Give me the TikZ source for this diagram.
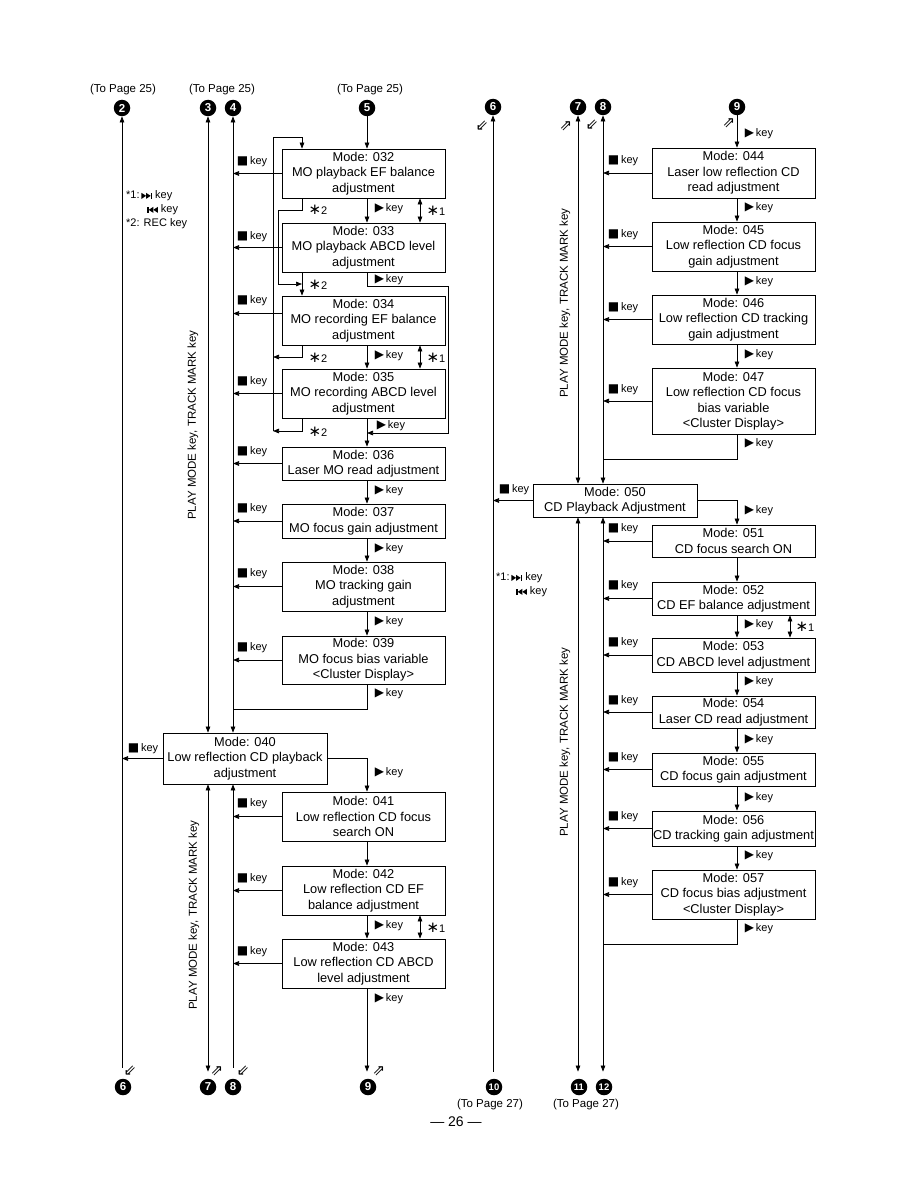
\documentclass[tikz,border=0pt]{standalone}
\usepackage{fontspec}
\setmainfont{Liberation Sans}
\newfontfamily\dvfont{DejaVu Sans}
\usetikzlibrary{arrows.meta}
\newcommand\mypk{{\dvfont\fontsize{12}{12}\selectfont ▶}\,key}
\newcommand\mysk{{\dvfont\fontsize{12}{12}\selectfont ■}\,key}
\newcommand\myast{{\dvfont\fontsize{15}{15}\selectfont ∗}}
\newcommand\fwdsym{\tikz[baseline=0pt,x=1pt,y=1pt]{\fill (0,0)--(4.6,3)--(0,6)--cycle; \fill (4.6,0)--(9.2,3)--(4.6,6)--cycle; \fill (9.2,0) rectangle (10.7,6);}}
\newcommand\rewsym{\tikz[baseline=0pt,x=1pt,y=1pt]{\fill (0,0) rectangle (1.5,6); \fill (6.1,0)--(1.5,3)--(6.1,6)--cycle; \fill (10.7,0)--(6.1,3)--(10.7,6)--cycle;}}
\tikzset{
  box/.style={draw, line width=0.8pt, align=center, minimum width=163pt, inner sep=0pt, font=\fontsize{12.8}{15.5}\selectfont},
  ln/.style={line width=0.7pt},
  arr/.style={ln, -{Triangle[length=6pt,width=4.6pt]}},
  arrb/.style={ln, {Triangle[length=6pt,width=4.6pt]}-{Triangle[length=6pt,width=4.6pt]}},
  arru/.style={ln, {Triangle[length=6pt,width=4.6pt]}-},
  klbl/.style={font=\fontsize{11}{13}\selectfont, inner sep=0pt},
  num/.style={circle, fill=black, text=white, font=\bfseries\fontsize{11.5}{11.5}\selectfont, inner sep=0pt, minimum size=16.5pt},
  numsm/.style={num, font=\bfseries\fontsize{9.5}{9.5}\selectfont},
  topage/.style={font=\fontsize{11.5}{13}\selectfont, inner sep=0pt},
  rot/.style={rotate=90, font=\fontsize{11.5}{13}\selectfont, inner sep=0pt},
  hol/.style={font=\dvfont\fontsize{15}{15}\selectfont, inner sep=0pt},
  leg/.style={font=\fontsize{11}{12}\selectfont, inner sep=0pt, anchor=west},
}
\begin{document}
\begin{tikzpicture}[x=1pt,y=-1pt]
\useasboundingbox (0,0) rectangle (918,1188);
% column x coordinates
\coordinate (L2) at (122,0);
\coordinate (L3) at (208,0);
\coordinate (L4) at (233,0);
\coordinate (L5) at (367,0);
\coordinate (E) at (302,0);
\coordinate (K1) at (420,0);
\coordinate (R6) at (493,0);
\coordinate (R7) at (578,0);
\coordinate (R8) at (603,0);
\coordinate (R9) at (737,0);
\coordinate (RK) at (790,0);

% top labels and circles
\node[topage] (tp1) at (123,90) {(To Page 25)};
\node[topage] (tp2) at (222,90) {(To Page 25)};
\node[topage] (tp3) at (370,90) {(To Page 25)};
\node[num] (c2) at (122,108) {2};
\node[num] (c3) at (208,108) {3};
\node[num] (c4) at (233,108) {4};
\node[num] (c5) at (367,108) {5};
\node[num] (c6) at (493,107) {6};
\node[num] (c7) at (578,107) {7};
\node[num] (c8) at (603,107) {8};
\node[num] (c9) at (737,107) {9};
\node[num] (b6) at (123,1087) {6};
\node[num] (b7) at (208,1087) {7};
\node[num] (b8) at (233,1087) {8};
\node[num] (b9) at (368,1087) {9};
\node[numsm] (b10) at (494,1087) {10};
\node[numsm] (b11) at (579,1087) {11};
\node[numsm] (b12) at (604,1087) {12};
\node[topage] (tp4) at (490,1105) {(To Page 27)};
\node[topage] (tp5) at (586,1105) {(To Page 27)};
\node[font=\fontsize{14}{14}\selectfont, inner sep=0pt] (pg) at (456,1122) {— 26 —};

% hollow arrows
\node[hol] (h1) at (130,1071) {⇙};
\node[hol] (h2) at (217,1071) {⇗};
\node[hol] (h3) at (243,1071) {⇙};
\node[hol] (h4) at (379,1071) {⇗};
\node[hol] (h5) at (482,126) {⇙};
\node[hol] (h6) at (566,126) {⇗};
\node[hol] (h7) at (592,125) {⇙};
\node[hol] (h8) at (729,123) {⇗};

% legends
\node[leg] (lg1) at (126,196) {*1:\,\fwdsym\ key};
\node[leg] (lg2) at (147,210) {\rewsym\ key};
\node[leg] (lg3) at (126,224) {*2: REC key};
\node[leg] (lg4) at (496,578) {*1:\,\fwdsym\ key};
\node[leg] (lg5) at (516,592) {\rewsym\ key};

% rotated texts
\node[rot] (r1) at (193,425) {PLAY MODE key, TRACK MARK key};
\node[rot] (r2) at (194,915) {PLAY MODE key, TRACK MARK key};
\node[rot] (r3) at (565,303) {PLAY MODE key, TRACK MARK key};
\node[rot] (r4) at (565,742) {PLAY MODE key, TRACK MARK key};

% middle boxes
\node[box, minimum height=49pt] (m032) at (363.5,173.5) {Mode: 032\\MO playback EF balance\\adjustment};
\node[box, minimum height=49pt] (m033) at (363.5,247.5) {Mode: 033\\MO playback ABCD level\\adjustment};
\node[box, minimum height=49pt] (m034) at (363.5,320.5) {Mode: 034\\MO recording EF balance\\adjustment};
\node[box, minimum height=49pt] (m035) at (363.5,393.5) {Mode: 035\\MO recording ABCD level\\adjustment};
\node[box, minimum height=33pt] (m036) at (363.5,463.5) {Mode: 036\\Laser MO read adjustment};
\node[box, minimum height=34pt] (m037) at (363.5,521) {Mode: 037\\MO focus gain adjustment};
\node[box, minimum height=49pt] (m038) at (363.5,586.5) {Mode: 038\\MO tracking gain\\adjustment};
\node[box, minimum height=48pt] (m039) at (363.5,660) {Mode: 039\\MO focus bias variable\\<Cluster Display>};
\node[box, minimum width=164pt, minimum height=51pt] (m040) at (245,758.5) {Mode: 040\\Low reflection CD playback\\adjustment};
\node[box, minimum height=49pt] (m041) at (363.5,816.5) {Mode: 041\\Low reflection CD focus\\search ON};
\node[box, minimum height=49pt] (m042) at (363.5,890.5) {Mode: 042\\Low reflection CD EF\\balance adjustment};
\node[box, minimum height=49pt] (m043) at (363.5,963.5) {Mode: 043\\Low reflection CD ABCD\\level adjustment};

% right boxes
\node[box, minimum height=50pt] (m044) at (733.5,173) {Mode: 044\\Laser low reflection CD\\read adjustment};
\node[box, minimum height=49pt] (m045) at (733.5,246.5) {Mode: 045\\Low reflection CD focus\\gain adjustment};
\node[box, minimum height=49pt] (m046) at (733.5,319.5) {Mode: 046\\Low reflection CD tracking\\gain adjustment};
\node[box, minimum height=66pt] (m047) at (733.5,401) {Mode: 047\\Low reflection CD focus\\bias variable\\<Cluster Display>};
\node[box, minimum width=164pt, minimum height=33pt] (m050) at (615,500.5) {Mode: 050\\CD Playback Adjustment};
\node[box, minimum height=32pt] (m051) at (733.5,541) {Mode: 051\\CD focus search ON};
\node[box, minimum height=33pt] (m052) at (733.5,598.5) {Mode: 052\\CD EF balance adjustment};
\node[box, minimum height=34pt] (m053) at (733.5,655) {Mode: 053\\CD ABCD level adjustment};
\node[box, minimum height=32pt] (m054) at (733.5,712) {Mode: 054\\Laser CD read adjustment};
\node[box, minimum height=33pt] (m055) at (733.5,769.5) {Mode: 055\\CD focus gain adjustment};
\node[box, minimum height=35pt] (m056) at (733.5,828.5) {Mode: 056\\CD tracking gain adjustment};
\node[box, minimum height=49pt] (m057) at (733.5,894.5) {Mode: 057\\CD focus bias adjustment\\<Cluster Display>};

% ---- left long lines
\draw[arru, shorten >=19pt] (c2) -- (c2 |- b6);
\draw[arrb] (c3) -- (m040.north -| L3);
\draw[arrb] (c4) -- (m040.north -| L4);
\draw[arrb, shorten >=7pt] (m040.south -| L3) -- (L3 |- b7.north);
\draw[arru, shorten >=11pt] (m040.south -| L4) -- (L4 |- b8.north);

% ---- middle flow
\draw[arr] (c5) -- (m032.north -| L5);
% REC loop
\draw[arr] (273,431) -- (273,137) -| (m032.north -| E);
\draw[arr] (m032.south -| E) -- (302,210) -- (278,210) -- (278,284) -- (302,284);
\draw[arr] (m033.south -| E) -- (m034.north -| E);
\draw[arr] (m034.south -| E) |- (273,357);
\draw[arr] (m035.south -| E) |- (273,431);
\node[klbl] (s1) at (318,210) {\myast 2};
\node[klbl] (s2) at (318,285) {\myast 2};
\node[klbl] (s3) at (318,358) {\myast 2};
\node[klbl] (s4) at (318,432) {\myast 2};

% play key arrows
\draw[arr] (m032.south -| L5) -- (m033.north -| L5);
\node[klbl] (p1) at (389,209) {\mypk};
\draw[arrb] (m032.south -| K1) -- (m033.north -| K1);
\node[klbl] (a1) at (436,211) {\myast 1};
\draw[arr] (m033.south -| L5) -- (367,286) -- (448,286) -- (448,433) -- (367,433);
\node[klbl] (p2) at (389,280) {\mypk};
\draw[arr] (m034.south -| L5) -- (m035.north -| L5);
\node[klbl] (p3) at (389,356) {\mypk};
\draw[arrb] (m034.south -| K1) -- (m035.north -| K1);
\node[klbl] (a2) at (436,358) {\myast 1};
\draw[arr] (m035.south -| L5) -- (m036.north -| L5);
\node[klbl] (p4) at (391,426) {\mypk};
\draw[arr] (m036.south -| L5) -- (m037.north -| L5);
\node[klbl] (p5) at (389,491) {\mypk};
\draw[arr] (m037.south -| L5) -- (m038.north -| L5);
\node[klbl] (p6) at (389,549) {\mypk};
\draw[arr] (m038.south -| L5) -- (m039.north -| L5);
\node[klbl] (p7) at (389,622) {\mypk};
\draw[ln] (m039.south -| L5) |- (233,709);
\node[klbl] (p8) at (389,694) {\mypk};
\draw[arr] (m040.east) -| (m041.north -| L5);
\node[klbl] (p9) at (389,773) {\mypk};
\draw[arr] (m041.south -| L5) -- (m042.north -| L5);
\draw[arr] (m042.south -| L5) -- (m043.north -| L5);
\node[klbl] (p10) at (389,926) {\mypk};
\draw[arrb] (m042.south -| K1) -- (m043.north -| K1);
\node[klbl] (a3) at (436,928) {\myast 1};
\draw[arr, shorten >=7pt] (m043.south -| L5) -- (L5 |- b9.north);
\node[klbl] (p11) at (389,999) {\mypk};

% stop key arrows (left)
\draw[arr] (m032.west) -- (m032.west -| L4);
\node[klbl] (k1) at (252,162) {\mysk};
\draw[arr] (m033.west) -- (m033.west -| L4);
\node[klbl] (k2) at (252,237) {\mysk};
\draw[arr] ([yshift=7pt]m034.west) -- ([yshift=7pt]m034.west -| L4);
\node[klbl] (k3) at (252,301) {\mysk};
\draw[arr] (m035.west) -- (m035.west -| L4);
\node[klbl] (k4) at (252,382) {\mysk};
\draw[arr] (m036.west) -- (m036.west -| L4);
\node[klbl] (k5) at (252,452) {\mysk};
\draw[arr] (m037.west) -- (m037.west -| L4);
\node[klbl] (k6) at (252,509) {\mysk};
\draw[arr] (m038.west) -- (m038.west -| L4);
\node[klbl] (k7) at (252,574) {\mysk};
\draw[arr] (m039.west) -- (m039.west -| L4);
\node[klbl] (k8) at (252,648) {\mysk};
\draw[arr] (m040.west) -- (m040.west -| L2);
\node[klbl] (k9) at (143,749) {\mysk};
\draw[arr] (m041.west) -- (m041.west -| L4);
\node[klbl] (k10) at (252,804) {\mysk};
\draw[arr] (m042.west) -- (m042.west -| L4);
\node[klbl] (k11) at (252,879) {\mysk};
\draw[arr] (m043.west) -- (m043.west -| L4);
\node[klbl] (k12) at (252,952) {\mysk};

% ---- right long lines
\draw[arru, shorten >=7pt] (c6) -- (c6 |- b10.north);
\draw[arrb] (c7) -- (m050.north -| R7);
\draw[arrb] (c8) -- (m050.north -| R8);
\draw[arrb, shorten >=7pt] (m050.south -| R7) -- (R7 |- b11.north);
\draw[arrb, shorten >=7pt] (m050.south -| R8) -- (R8 |- b12.north);

% right flow
\draw[arr] (c9) -- (m044.north -| R9);
\node[klbl] (q1) at (759,134) {\mypk};
\draw[arr] (m044.south -| R9) -- (m045.north -| R9);
\node[klbl] (q2) at (759,208) {\mypk};
\draw[arr] (m045.south -| R9) -- (m046.north -| R9);
\node[klbl] (q3) at (759,282) {\mypk};
\draw[arr] (m046.south -| R9) -- (m047.north -| R9);
\node[klbl] (q4) at (759,355) {\mypk};
\draw[ln] (m047.south -| R9) |- (603,459);
\node[klbl] (q5) at (759,444) {\mypk};
\draw[arr] (m050.east) -| (m051.north -| R9);
\node[klbl] (q6) at (759,511) {\mypk};
\draw[arr] (m051.south -| R9) -- (m052.north -| R9);
\draw[arr] (m052.south -| R9) -- (m053.north -| R9);
\node[klbl] (q7) at (759,625) {\mypk};
\draw[arrb] (m052.south -| RK) -- (m053.north -| RK);
\node[klbl] (a4) at (805,627) {\myast 1};
\draw[arr] (m053.south -| R9) -- (m054.north -| R9);
\node[klbl] (q8) at (759,682) {\mypk};
\draw[arr] (m054.south -| R9) -- (m055.north -| R9);
\node[klbl] (q9) at (759,740) {\mypk};
\draw[arr] (m055.south -| R9) -- (m056.north -| R9);
\node[klbl] (q10) at (759,798) {\mypk};
\draw[arr] (m056.south -| R9) -- (m057.north -| R9);
\node[klbl] (q11) at (759,856) {\mypk};
\draw[ln] (m057.south -| R9) |- (603,944);
\node[klbl] (q12) at (759,929) {\mypk};

% stop key arrows (right)
\draw[arr] (m044.west) -- (m044.west -| R8);
\node[klbl] (j1) at (623,161) {\mysk};
\draw[arr] (m045.west) -- (m045.west -| R8);
\node[klbl] (j2) at (623,235) {\mysk};
\draw[arr] (m046.west) -- (m046.west -| R8);
\node[klbl] (j3) at (623,308) {\mysk};
\draw[arr] (m047.west) -- (m047.west -| R8);
\node[klbl] (j4) at (623,390) {\mysk};
\draw[arr] (m050.west) -- (m050.west -| R6);
\node[klbl] (j5) at (514,490) {\mysk};
\draw[arr] (m051.west) -- (m051.west -| R8);
\node[klbl] (j6) at (623,529) {\mysk};
\draw[arr] (m052.west) -- (m052.west -| R8);
\node[klbl] (j7) at (623,586) {\mysk};
\draw[arr] (m053.west) -- (m053.west -| R8);
\node[klbl] (j8) at (623,643) {\mysk};
\draw[arr] (m054.west) -- (m054.west -| R8);
\node[klbl] (j9) at (623,701) {\mysk};
\draw[arr] (m055.west) -- (m055.west -| R8);
\node[klbl] (j10) at (623,758) {\mysk};
\draw[arr] (m056.west) -- (m056.west -| R8);
\node[klbl] (j11) at (623,817) {\mysk};
\draw[arr] (m057.west) -- (m057.west -| R8);
\node[klbl] (j12) at (623,883) {\mysk};
\end{tikzpicture}
\end{document}
